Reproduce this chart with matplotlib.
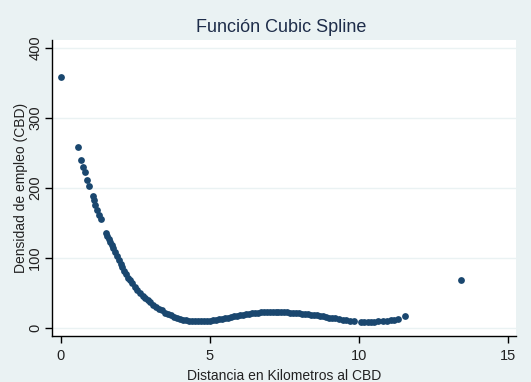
import matplotlib.pyplot as plt

# data (distance km, employment density)
distancia = [0.0, 0.56, 0.67, 0.75, 0.81, 0.87, 0.93, 1.07, 1.10, 1.14, 1.20, 1.27, 1.33,
             1.51, 1.55, 1.60, 1.65, 1.70, 1.76, 1.82, 1.88, 1.94, 2.00, 2.06, 2.12, 2.18,
             2.25, 2.32, 2.40, 2.48, 2.56, 2.65, 2.74, 2.83, 2.92, 3.00, 3.10, 3.20, 3.30,
             3.40, 3.50, 3.60, 3.70, 3.80, 3.90, 4.00, 4.10, 4.20, 4.30, 4.40, 4.50, 4.60,
             4.70, 4.80, 4.90, 5.00, 5.10, 5.20, 5.30, 5.40, 5.50, 5.60, 5.70, 5.80, 5.90,
             6.00, 6.10, 6.20, 6.30, 6.40, 6.50, 6.60, 6.70, 6.80, 6.90, 7.00, 7.10, 7.20,
             7.30, 7.40, 7.50, 7.60, 7.70, 7.80, 7.90, 8.00, 8.10, 8.20, 8.30, 8.40, 8.50,
             8.60, 8.70, 8.80, 8.90, 9.00, 9.10, 9.20, 9.33, 9.45, 9.58, 9.70, 9.82,
             10.08, 10.18, 10.29, 10.40, 10.52, 10.65, 10.82, 10.95, 11.07, 11.19, 11.31,
             11.54, 13.42]
densidad = [358, 258, 240, 230, 222, 211, 202, 189, 183, 176, 169, 161, 155,
            135, 131, 127, 123, 119, 114, 108, 103, 97, 92, 87, 82, 77,
            72, 68, 64, 59, 54, 50, 46, 43, 40, 37, 33, 30, 27,
            25, 22, 20, 18, 16, 14.5, 13, 12, 11, 10.5, 10, 9.5, 9.5,
            9.5, 10, 10, 10.5, 11, 11.5, 12.5, 13, 14, 15, 16, 17, 17.5,
            18.5, 19, 20, 20.5, 21, 21.5, 22, 22.5, 22.5, 23, 23, 23, 23,
            23, 23, 22.5, 22.5, 22, 22, 21.5, 21, 20.5, 20, 19.5, 19, 18.5,
            18, 17, 16.5, 16, 15, 14.5, 14, 12.5, 11.5, 11, 10.5, 10.5,
            9, 9, 9, 9, 9, 9.5, 10, 10.5, 11.5, 12, 12.5,
            16.5, 68.5]

xticks = [0, 5, 10, 15]
yticks = [0, 100, 200, 300, 400]

plt.rcParams['font.family'] = ['Liberation Sans', 'DejaVu Sans']

bg = '#EAF2F3'
navy = '#1A476F'
W, H = 531, 382

fig = plt.figure(figsize=(5.31, 3.82), dpi=100, facecolor=bg)
ax = fig.add_axes([52 / W, 1 - 336 / H, (516 - 52) / W, (336 - 40) / H])
ax.set_facecolor('white')

ax.scatter(distancia, densidad, s=24, color=navy, marker='o', linewidths=0, zorder=3)

ax.set_xlim(-0.3, 15.27)
ax.set_ylim(-11.4, 411)
ax.set_xticks(xticks)
ax.set_yticks(yticks)
ax.set_yticklabels([str(t) for t in yticks], rotation=90, va='center')

for s in ['top', 'right']:
    ax.spines[s].set_visible(False)
for s in ['left', 'bottom']:
    ax.spines[s].set_color('black')
    ax.spines[s].set_linewidth(1)

ax.grid(axis='y', color='#EAF2F3', linewidth=1)
ax.set_axisbelow(True)
ax.tick_params(direction='out', length=5, width=1, colors='black', labelcolor='#222222',
               labelsize=10.5)
ax.tick_params(axis='x', pad=4)
ax.tick_params(axis='y', pad=2)

fig.text(284 / W, 1 - 376 / H, 'Distancia en Kilometros al CBD', ha='center', va='center',
         fontsize=10, color='#222222')
fig.text(21 / W, 1 - 188 / H, 'Densidad de empleo (CBD)', ha='center', va='center',
         rotation=90, fontsize=10, color='#222222')
fig.text(281 / W, 1 - 28 / H, 'Función Cubic Spline', ha='center', va='center',
         fontsize=13, color='#1E2D4A')

fig.savefig('out.png', dpi=100, facecolor=bg)
